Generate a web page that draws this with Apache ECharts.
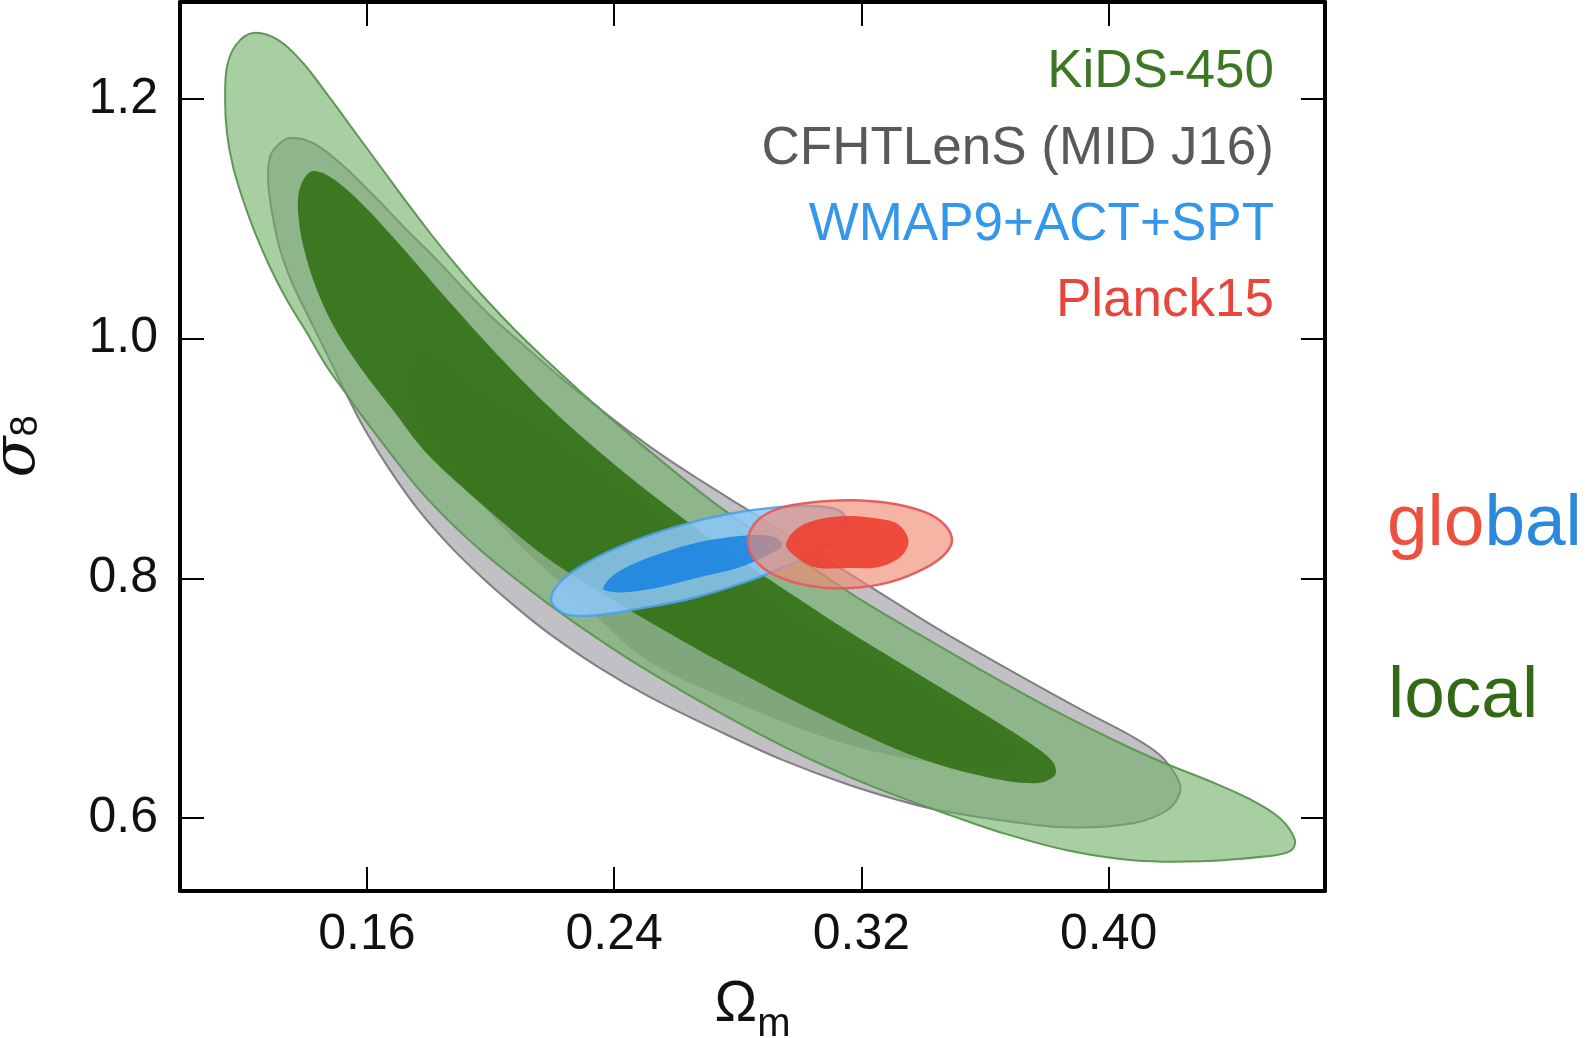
<!DOCTYPE html>
<html>
<head>
<meta charset="utf-8">
<script src="https://cdn.jsdelivr.net/npm/echarts@6/dist/echarts.min.js"></script>
<style>
  html, body { margin: 0; padding: 0; background: #ffffff; }
  #chart { width: 1588px; height: 1038px; }
</style>
</head>
<body>
<div id="chart"></div>
<script>
// Omega_m - sigma_8 constraints: 68% and 95% credible regions from
// cosmic shear (KiDS-450, CFHTLenS) and the CMB (WMAP9+ACT+SPT, Planck15).

const xTicks = [0.16, 0.24, 0.32, 0.40];
const yTicks = [0.6, 0.8, 1.0, 1.2];

// KiDS-450, 95% region
const kids95 = [
  [0.1231,1.2551],[0.1312,1.2493],[0.1393,1.2301],[0.1480,1.2009],[0.1561,1.1725],[0.1642,1.1441],
  [0.1723,1.1157],[0.1804,1.0882],[0.1891,1.0606],[0.1975,1.0356],[0.2079,1.0072],[0.2183,0.9813],
  [0.2289,0.9562],[0.2396,0.9320],[0.2506,0.9078],[0.2613,0.8853],[0.2742,0.8594],[0.2881,0.8344],
  [0.3043,0.8085],[0.3205,0.7809],[0.3380,0.7542],[0.3593,0.7225],[0.3810,0.6916],[0.4004,0.6665],
  [0.4166,0.6473],[0.4328,0.6306],[0.4457,0.6156],[0.4554,0.5998],[0.4603,0.5814],[0.4587,0.5722],
  [0.4512,0.5680],[0.4296,0.5638],[0.4079,0.5647],[0.3865,0.5730],[0.3648,0.5881],[0.3487,0.6023],
  [0.3325,0.6173],[0.3163,0.6340],[0.2946,0.6599],[0.2733,0.6891],[0.2516,0.7216],[0.2354,0.7484],
  [0.2192,0.7776],[0.2086,0.7985],[0.1975,0.8218],[0.1869,0.8469],[0.1762,0.8761],[0.1668,0.9070],
  [0.1587,0.9345],[0.1529,0.9554],[0.1471,0.9763],[0.1406,1.0047],[0.1341,1.0322],[0.1286,1.0598],
  [0.1238,1.0882],[0.1199,1.1157],[0.1167,1.1433],[0.1147,1.1716],[0.1141,1.1992],[0.1147,1.2267],
  [0.1176,1.2451]
];

// KiDS-450, 68% region
const kids68 = [
  [0.1416,1.1391],[0.1464,1.1374],[0.1529,1.1257],[0.1610,1.1057],[0.1707,1.0781],[0.1772,1.0589],
  [0.1836,1.0397],[0.1966,1.0022],[0.2073,0.9729],[0.2183,0.9446],[0.2289,0.9195],[0.2396,0.8961],
  [0.2516,0.8711],[0.2678,0.8394],[0.2839,0.8101],[0.2979,0.7859],[0.3163,0.7550],[0.3380,0.7208],
  [0.3593,0.6874],[0.3755,0.6607],[0.3820,0.6465],[0.3826,0.6357],[0.3762,0.6290],[0.3593,0.6348],
  [0.3380,0.6507],[0.3163,0.6749],[0.2946,0.7024],[0.2733,0.7317],[0.2516,0.7634],[0.2354,0.7884],
  [0.2192,0.8152],[0.2031,0.8485],[0.1901,0.8778],[0.1781,0.9078],[0.1684,0.9404],[0.1587,0.9729],
  [0.1503,1.0055],[0.1438,1.0406],[0.1393,1.0781],[0.1377,1.1074],[0.1383,1.1257]
];

// CFHTLenS (MID J16), 95% region
const cfht95 = [
  [0.1351,1.1675],[0.1425,1.1633],[0.1513,1.1466],[0.1620,1.1199],[0.1723,1.0923],[0.1827,1.0656],
  [0.1917,1.0406],[0.2014,1.0155],[0.2118,0.9921],[0.2225,0.9679],[0.2338,0.9446],[0.2451,0.9220],
  [0.2564,0.9011],[0.2678,0.8819],[0.2807,0.8611],[0.2881,0.8494],[0.3043,0.8227],[0.3205,0.7968],
  [0.3380,0.7684],[0.3487,0.7517],[0.3703,0.7200],[0.3920,0.6891],[0.4069,0.6690],[0.4166,0.6524],
  [0.4221,0.6340],[0.4231,0.6215],[0.4189,0.6064],[0.4079,0.5956],[0.3865,0.5922],[0.3648,0.5981],
  [0.3487,0.6048],[0.3380,0.6106],[0.3163,0.6273],[0.2946,0.6482],[0.2733,0.6732],[0.2516,0.7008],
  [0.2354,0.7250],[0.2192,0.7534],[0.2086,0.7751],[0.1975,0.8001],[0.1869,0.8268],[0.1762,0.8586],
  [0.1668,0.8928],[0.1594,0.9237],[0.1535,0.9529],[0.1480,0.9821],[0.1416,1.0155],[0.1361,1.0447],
  [0.1319,1.0740],[0.1293,1.1048],[0.1280,1.1324],[0.1286,1.1516],[0.1312,1.1616]
];

// CFHTLenS (MID J16), 68% region
const cfht68 = [
  [0.1772,0.9838],[0.1749,0.9671],[0.1765,0.9404],[0.1830,0.9087],[0.1933,0.8736],[0.2063,0.8360],
  [0.2225,0.7960],[0.2354,0.7651],[0.2516,0.7300],[0.2839,0.6916],[0.3163,0.6607],[0.3487,0.6440],
  [0.3632,0.6432],[0.3687,0.6549],[0.3648,0.6665],[0.3593,0.6749],[0.3380,0.7083],[0.3163,0.7375],
  [0.2946,0.7709],[0.2733,0.8110],[0.2516,0.8544],[0.2354,0.8853],[0.2192,0.9153],[0.2031,0.9446],
  [0.1901,0.9671],[0.1820,0.9821]
];

// WMAP9+ACT+SPT
const wmap95 = [
  [0.2196,0.7818],[0.2228,0.7976],[0.2315,0.8135],[0.2445,0.8293],[0.2606,0.8435],[0.2768,0.8536],
  [0.2930,0.8594],[0.3059,0.8602],[0.3131,0.8561],[0.3153,0.8452],[0.3124,0.8327],[0.3040,0.8202],
  [0.2943,0.8085],[0.2814,0.7960],[0.2652,0.7834],[0.2490,0.7751],[0.2344,0.7692],[0.2241,0.7701]
];
const wmap68 = [
  [0.2364,0.7918],[0.2393,0.8018],[0.2467,0.8126],[0.2581,0.8235],[0.2710,0.8319],[0.2839,0.8360],
  [0.2920,0.8344],[0.2943,0.8277],[0.2904,0.8202],[0.2807,0.8093],[0.2678,0.8010],[0.2548,0.7926],
  [0.2435,0.7884],[0.2377,0.7893]
];

// Planck15
const planck95 = [
  [0.2833,0.8319],[0.2865,0.8485],[0.2937,0.8586],[0.3050,0.8636],[0.3163,0.8652],[0.3292,0.8627],
  [0.3406,0.8552],[0.3470,0.8444],[0.3493,0.8319],[0.3470,0.8202],[0.3406,0.8085],[0.3292,0.7968],
  [0.3163,0.7918],[0.3034,0.7935],[0.2920,0.8026],[0.2856,0.8152]
];
const planck68 = [
  [0.2956,0.8277],[0.2985,0.8402],[0.3050,0.8485],[0.3157,0.8519],[0.3260,0.8494],[0.3318,0.8452],
  [0.3351,0.8335],[0.3344,0.8235],[0.3312,0.8152],[0.3254,0.8093],[0.3157,0.8085],[0.3050,0.8093],
  [0.2985,0.8185]
];

const FONT = '"Liberation Sans", Arial, Helvetica, sans-serif';

// One filled, smoothed region per series; the outline is projected through the axes.
function region(name, pts, fill, stroke, lineWidth) {
  return {
    type: 'custom',
    name: name,
    xAxisIndex: 0,
    yAxisIndex: 0,
    silent: true,
    animation: false,
    data: pts,
    encode: { x: 0, y: 1 },
    renderItem: function (params, api) {
      if (params.dataIndex !== 0) return null;
      const points = pts.map(function (p) { return api.coord(p); });
      return {
        type: 'polygon',
        shape: { points: points, smooth: 0.35 },
        style: {
          fill: fill,
          stroke: stroke || null,
          lineWidth: stroke ? lineWidth : 0
        }
      };
    }
  };
}

const frameLine = { show: true, onZero: false, lineStyle: { color: '#000', width: 4 } };
const tickStyle = { color: '#000', width: 2 };

const chart = echarts.init(document.getElementById('chart'), null, { renderer: 'canvas' });

chart.setOption({
  backgroundColor: '#ffffff',
  animation: false,
  grid: { left: 180, right: 263, top: 2, bottom: 147, containLabel: false, outerBoundsMode: 'none' },
  xAxis: [
    {
      type: 'value', position: 'bottom', min: 0.0995, max: 0.47,
      axisLine: frameLine,
      axisTick: { show: true, inside: true, length: 24, lineStyle: tickStyle, customValues: xTicks },
      axisLabel: {
        show: true, customValues: xTicks, margin: 19,
        formatter: function (v) { return v.toFixed(2); },
        fontSize: 50, color: '#111', fontFamily: FONT
      },
      splitLine: { show: false },
      name: '{o|Ω}{m|m}',
      nameLocation: 'middle',
      nameGap: 72,
      nameTextStyle: {
        color: '#111', fontFamily: FONT,
        rich: {
          o: { fontSize: 57, lineHeight: 80, fontFamily: FONT, color: '#111' },
          m: { fontSize: 40, lineHeight: 30, padding: [40, 0, 0, 0], fontFamily: FONT, color: '#111' }
        }
      }
    },
    {
      type: 'value', position: 'top', min: 0.0995, max: 0.47,
      axisLine: frameLine,
      axisTick: { show: true, inside: true, length: 24, lineStyle: tickStyle, customValues: xTicks },
      axisLabel: { show: false },
      splitLine: { show: false }
    }
  ],
  yAxis: [
    {
      type: 'value', position: 'left', min: 0.539, max: 1.281,
      axisLine: frameLine,
      axisTick: { show: true, inside: true, length: 24, lineStyle: tickStyle, customValues: yTicks },
      axisLabel: {
        show: true, customValues: yTicks, margin: 22,
        formatter: function (v) { return v.toFixed(1); },
        fontSize: 50, color: '#111', fontFamily: FONT
      },
      splitLine: { show: false },
      name: '{s|σ}{n|8}',
      nameLocation: 'middle',
      nameRotate: 90,
      nameGap: 132,
      nameTextStyle: {
        color: '#111', fontFamily: FONT,
        rich: {
          s: { fontSize: 60, lineHeight: 60, fontStyle: 'italic', fontFamily: 'DejaVu Serif', color: '#111' },
          n: { fontSize: 38, lineHeight: 30, padding: [18, 0, 0, 0], fontFamily: FONT, color: '#111' }
        }
      }
    },
    {
      type: 'value', position: 'right', min: 0.539, max: 1.281,
      axisLine: frameLine,
      axisTick: { show: true, inside: true, length: 24, lineStyle: tickStyle, customValues: yTicks },
      axisLabel: { show: false },
      splitLine: { show: false }
    }
  ],
  graphic: [
    { type: 'text', x: 1274, y: 72, style: { text: 'KiDS-450', fill: '#3c7823', font: '53px ' + FONT, align: 'right', verticalAlign: 'middle' } },
    { type: 'text', x: 1274, y: 149, style: { text: 'CFHTLenS (MID J16)', fill: '#595959', font: '53px ' + FONT, align: 'right', verticalAlign: 'middle' } },
    { type: 'text', x: 1274, y: 225, style: { text: 'WMAP9+ACT+SPT', fill: '#3497ea', font: '53px ' + FONT, align: 'right', verticalAlign: 'middle' } },
    { type: 'text', x: 1274, y: 301, style: { text: 'Planck15', fill: '#e8463c', font: '53px ' + FONT, align: 'right', verticalAlign: 'middle' } },
    {
      type: 'text', x: 1387, y: 525,
      style: {
        text: '{r|glo}{b|bal}', align: 'left', verticalAlign: 'middle',
        rich: {
          r: { fill: '#ee5040', font: '73px ' + FONT },
          b: { fill: '#2a88dd', font: '73px ' + FONT }
        }
      }
    },
    { type: 'text', x: 1388, y: 697, style: { text: 'local', fill: '#336914', font: '73px ' + FONT, align: 'left', verticalAlign: 'middle' } }
  ],
  series: [
    region('CFHTLenS (MID J16)', cfht95, 'rgb(192,192,197)', 'rgb(128,128,132)', 2),
    region('CFHTLenS (MID J16)', cfht68, 'rgb(155,155,160)', null, 0),
    region('KiDS-450', kids95, 'rgba(110,175,100,0.6)', 'rgb(96,150,86)', 2),
    region('KiDS-450', kids68, 'rgba(46,110,16,0.86)', null, 0),
    region('WMAP9+ACT+SPT', wmap95, 'rgba(140,200,250,0.85)', 'rgba(80,160,230,0.9)', 2.5),
    region('WMAP9+ACT+SPT', wmap68, 'rgba(30,135,225,0.92)', null, 0),
    region('Planck15', planck95, 'rgba(240,140,115,0.65)', 'rgb(226,96,100)', 2.5),
    region('Planck15', planck68, 'rgba(238,60,45,0.88)', null, 0)
  ]
});
</script>
</body>
</html>
